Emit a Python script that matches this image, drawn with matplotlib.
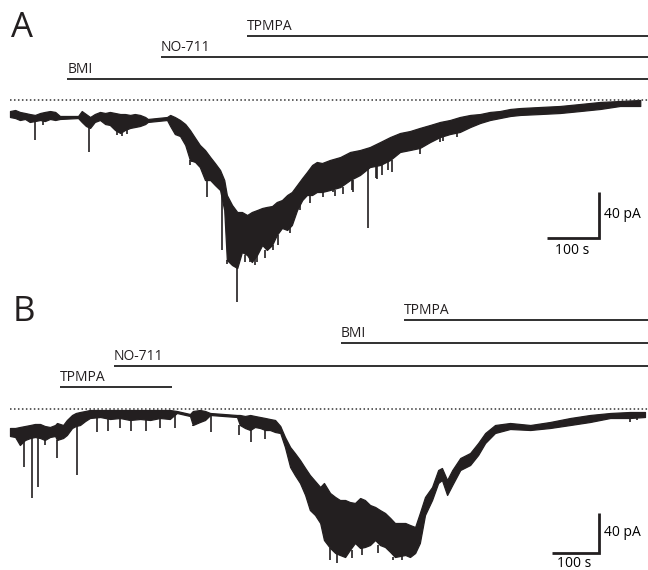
import matplotlib
matplotlib.use("Agg")
import matplotlib.pyplot as plt

plt.rcParams['font.family'] = ['Open Sans', 'DejaVu Sans']

# ---------------- Panel A data (time in s, current in pA) ----------------
A_t = [0, 10, 19, 29, 38, 48, 58, 67, 77, 87, 96,
       131, 138, 146, 154, 163, 173, 183, 192, 202, 212, 221, 231, 240, 250, 260, 265,
       302, 308, 317, 327, 337, 346, 356, 365, 375, 385, 394, 404, 412, 417, 427, 437,
       446, 456, 465, 475, 485, 494, 504, 513, 523, 533, 542, 552, 562, 571, 581, 590, 600,
       615, 635, 654, 673, 692, 712, 731, 750, 769, 788, 808, 827, 846, 865, 885, 904,
       923, 942, 962, 981,
       1019, 1058, 1096, 1135, 1173, 1212]
A_top = [-9.6, -8.7, -10.4, -11.3, -12.2, -13.0, -11.3, -10.4, -9.6, -10.4, -13.9,
         -13.9, -9.6, -12.2, -14.8, -12.2, -10.4, -11.3, -10.4, -11.3, -12.2, -12.2, -13.0,
         -12.2, -13.0, -14.8, -16.5,
         -14.8, -13.0, -14.8, -17.4, -20.9, -26.1, -33.0, -39.1, -43.5, -49.6, -54.8, -60.9,
         -69.6, -82.6, -91.3, -97.4, -97.4, -100.0, -97.4, -95.7, -93.9, -93.0, -92.2, -88.7,
         -87.0, -82.6, -80.0, -73.9, -67.8, -62.6, -56.5, -53.9, -54.8,
         -52.2, -49.6, -45.2, -43.5, -40.9, -36.5, -32.2, -28.7, -27.0, -24.3, -21.7, -19.1,
         -17.4, -14.8, -13.0, -12.2, -10.4, -9.6, -7.8, -7.0,
         -6.1, -5.2, -3.5, -1.7, -0.9, 0.0]
A_bot = [-14.8, -15.7, -17.4, -16.5, -19.1, -18.3, -17.4, -18.3, -16.5, -17.4, -16.5,
         -15.7, -19.1, -22.6, -24.3, -19.1, -17.4, -20.9, -21.7, -26.1, -28.7, -26.1, -24.3,
         -23.5, -22.6, -20.9, -19.1,
         -17.4, -22.6, -29.6, -31.3, -39.1, -52.2, -53.9, -58.3, -69.6, -69.6, -73.9, -78.3,
         -95.7, -139.1, -143.5, -146.1, -132.2, -134.8, -140.9, -134.8, -126.1, -130.4, -126.1,
         -117.4, -111.3, -113.0, -108.7, -95.7, -87.0, -82.6, -82.6, -80.0, -80.0,
         -78.3, -75.7, -69.6, -65.2, -58.3, -56.5, -52.2, -45.2, -43.5, -41.7, -36.5, -32.2,
         -29.6, -27.8, -23.5, -20.0, -17.4, -15.7, -13.9, -13.0,
         -12.2, -11.3, -9.6, -7.8, -5.2, -5.2]
A_spike_t = [48, 63, 152, 206, 215, 225, 346, 350, 367, 379, 398, 408, 417, 427, 437, 448,
             452, 462, 471, 475, 490, 506, 515, 538, 558, 577, 602, 621, 625, 640, 658, 660,
             688, 704, 706, 715, 727, 735, 788, 827, 833, 860]
A_spike_i = [-34.8, -21.7, -45.2, -30.4, -31.3, -29.6, -56.5, -54.0, -56.5, -84.3, -74.0,
             -130.4, -143.0, -141.0, -175.7, -128.0, -140.9, -137.0, -143.5, -141.0, -137.4,
             -130.0, -126.1, -115.7, -95.7, -89.6, -84.0, -80.0, -83.5, -82.0, -78.3, -80.0,
             -111.3, -67.8, -69.0, -65.2, -60.9, -63.0, -47.0, -36.5, -36.0, -32.0]
A_drugs = ['BMI', 'NO-711', 'TPMPA']
A_drug_start = [110, 290, 456]

# ---------------- Panel B data (time in s, current in pA) ----------------
B_t = [0, 11, 21, 32, 43, 53, 64, 74, 85, 96, 100, 113, 121, 132, 140, 149, 160, 170,
       192, 213, 234, 255, 277, 298, 319, 340,
       355, 383, 389, 404, 415, 426,
       483, 489, 500, 511, 521, 532, 543, 553, 564, 575,
       585, 596, 606, 617, 628, 638, 649, 660, 668, 681, 692, 702, 713, 723, 734, 745,
       755, 766, 777, 787, 798, 809, 819, 830, 841, 851, 862, 872,
       883, 898, 911, 919, 930, 941, 958, 979, 996, 1011, 1032,
       1064, 1107, 1149, 1192, 1234, 1277, 1319, 1351]
B_top = [-19, -19, -18, -17, -16, -15, -15, -17, -18, -16, -14, -16, -11, -6, -4, -3, -2, -1,
         -1, -1, -1, -1, -1, -1, -1, -1,
         -2, -5, -2, -1, -2, -4,
         -6, -6, -7, -6, -7, -8, -9, -10, -11, -17,
         -28, -38, -44, -51, -59, -66, -72, -78, -74, -84, -88, -91, -91, -93, -94, -89,
         -91, -96, -98, -101, -104, -109, -114, -114, -114, -116, -118, -104,
         -88, -78, -61, -59, -71, -61, -49, -44, -34, -24, -16,
         -14, -16, -13, -9, -6, -4, -3, -3]
B_bot = [-27, -28, -36, -31, -29, -28, -29, -31, -28, -27, -31, -29, -26, -19, -17, -16, -12, -9,
         -8, -10, -9, -11, -10, -11, -9, -10,
         -4, -7, -16, -13, -11, -6,
         -8, -16, -19, -21, -18, -19, -21, -21, -23, -24,
         -38, -58, -66, -74, -86, -101, -106, -114, -131, -139, -144, -146, -148, -141, -134,
         -139, -138, -136, -131, -136, -138, -143, -148, -147, -146, -148, -144, -134,
         -106, -91, -74, -71, -86, -76, -61, -56, -46, -34, -24,
         -20, -21, -19, -16, -13, -9, -9, -8]
B_spike_t = [30, 47, 60, 74, 100, 143, 185, 209, 234, 257, 289, 319, 351, 389, 428,
             487, 513, 543, 681, 696, 728, 749, 783, 815, 834, 1285, 1319, 1334]
B_spike_i = [-58, -89, -78, -36, -49, -66, -23, -22, -19, -22, -22, -19, -19, -17, -23,
             -26, -33, -30, -151, -154, -149, -146, -144, -151, -151, -9, -13, -11]
B_drugs = ['TPMPA', 'NO-711', 'BMI', 'TPMPA']
B_drug_start = [106, 221, 704, 838]
B_drug_end = [345, None, None, None]

# scale bars: 100 s, 40 pA
SB_T, SB_I = 100, 40

INK = '#231f20'
W, H = 648, 570
fig = plt.figure(figsize=(W / 100, H / 100), dpi=100)


def panel(px_top, px_bot, x0px, px_per_s, base_px, px_per_pA):
    ax = fig.add_axes([0, 1 - px_bot / H, 1, (px_bot - px_top) / H])
    ax.set_xlim(-x0px / px_per_s, (W - x0px) / px_per_s)
    ax.set_ylim(-(px_bot - base_px) / px_per_pA, (base_px - px_top) / px_per_pA)
    ax.axis('off')
    return ax


def draw_trace(ax, t, top, bot, st, si, lw):
    ax.fill_between(t, bot, top, color=INK, lw=0.9, edgecolor=INK)
    # spikes hang from the bottom edge of the band
    for ts, vs in zip(st, si):
        j = min(range(len(t)), key=lambda k: abs(t[k] - ts))
        ax.vlines(ts, vs, bot[j], color=INK, lw=lw)


def drug_bars(ax, names, starts, ends, levels, xmax):
    for n, s, e, lv in zip(names, starts, ends, levels):
        ax.hlines(lv, s, xmax if e is None else e, color='#303030', lw=1.4)
        ax.annotate(n, (s, lv), xytext=(0, 1.5), textcoords='offset points',
                    ha='left', va='bottom', fontsize=10, color='#231f20')


def scale_bar(ax, t_corner, i_corner, off_txt_y):
    ax.plot([t_corner - SB_T, t_corner, t_corner],
            [i_corner, i_corner, i_corner + SB_I], color=INK, lw=2.0,
            solid_joinstyle='miter', solid_capstyle='butt')
    ax.annotate('%d pA' % SB_I, (t_corner, i_corner + SB_I / 2), xytext=(3.5, 0),
                textcoords='offset points', ha='left', va='center', fontsize=10)
    ax.annotate('%d s' % SB_T, (t_corner - SB_T / 2, i_corner), xytext=(-1, -off_txt_y),
                textcoords='offset points', ha='center', va='top', fontsize=10)


# ---- Panel A ----
axA = panel(0, 310, 10, 0.52, 100, 1.15)
xmaxA = axA.get_xlim()[1]
axA.hlines(0, A_t[0], xmaxA, color='#333333', lw=1.1, linestyles=(0, (1, 1.6)))
draw_trace(axA, A_t, A_top, A_bot, A_spike_t, A_spike_i, 1.2)
drug_bars(axA, A_drugs, A_drug_start, [None, None, None], [18.3, 37.4, 55.7], xmaxA)
scale_bar(axA, 1133, -120, 3.5)

# ---- Panel B ----
axB = panel(280, 570, 10, 0.47, 409, 1.0)
xmaxB = axB.get_xlim()[1]
axB.hlines(0, B_t[0], xmaxB, color='#333333', lw=1.1, linestyles=(0, (1, 1.6)))
draw_trace(axB, B_t, B_top, B_bot, B_spike_t, B_spike_i, 1.2)
drug_bars(axB, B_drugs, B_drug_start, B_drug_end, [22, 43, 66, 89], xmaxB)
scale_bar(axB, 1253, -144, 2.0)

fig.text(11 / W, 1 - 37 / H, 'A', fontsize=25, va='baseline', ha='left', color=INK)
fig.text(13 / W, 1 - 321 / H, 'B', fontsize=25, va='baseline', ha='left', color=INK)

fig.savefig('out.png', dpi=100)
